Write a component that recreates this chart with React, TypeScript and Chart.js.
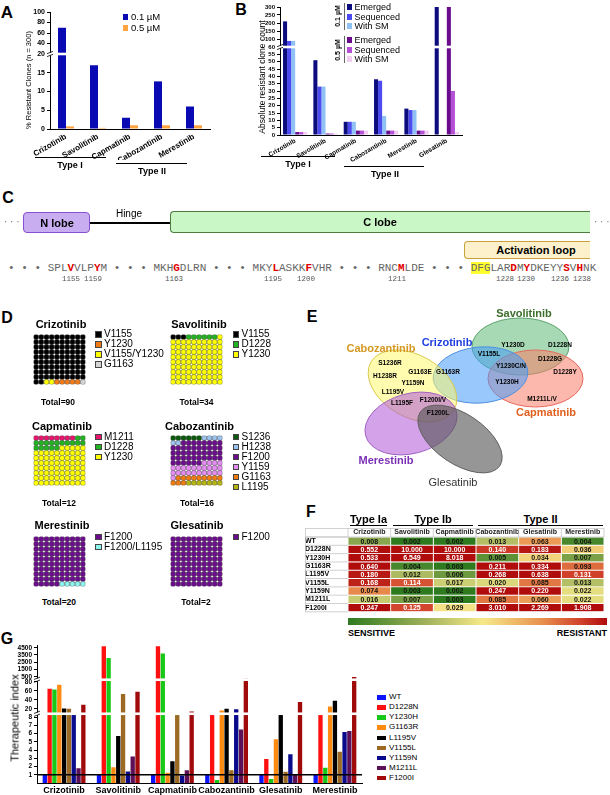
import React, { useEffect, useRef } from "react";
import { Chart, registerables } from "chart.js";

Chart.register(...registerables);

const SANS = '"Liberation Sans", Arial, Helvetica, sans-serif';
const MONO = '"Liberation Mono", "Courier New", monospace';
Chart.defaults.font.family = SANS;

/* ===================== DATA ===================== */
// Panel A
const drugsA = ["Crizotinib", "Savolitinib", "Capmatinib", "Cabozantinib", "Merestinib"];
const pctAt01 = [70, 17, 3, 12.7, 6];
const pctAt05 = [0.7, 0.3, 1, 1, 1];
const ticksALow = [0, 5, 10, 15];
const ticksAHigh = [20, 40, 60, 80, 100];
const legendA = ["0.1 µM", "0.5 µM"];

// Panel B
const drugsB = ["Crizotinib", "Savolitinib", "Capmatinib", "Cabozantinib", "Merestinib", "Glesatinib"];
const emerged01 = [210, 51, 9, 38, 18, 300];
const sequenced01 = [88, 33, 9, 37, 17, 0];
const withSM01 = [88, 33, 9, 13, 17, 0];
const emerged05 = [2, 1, 3, 3, 3, 300];
const sequenced05 = [2, 1, 3, 3, 3, 30];
const withSM05 = [2, 1, 3, 3, 3, 2];
const ticksBLow = [0, 5, 10, 15, 20, 25, 30, 35, 40, 45, 50, 55, 60];
const ticksBHigh = [100, 150, 200, 250, 300];
const legendB = ["Emerged", "Sequenced", "With SM"];
const concB = ["0.1 µM", "0.5 µM"];

// Panel C
const seqSegments = ["SPLVVLPYM", "MKHGDLRN", "MKYLASKKFVHR", "RNCMLDE", "DFGLARDMYDKEYYSVHNK"];
const seqRedPos = [[3, 7], [3], [3, 8], [3], [6, 8, 14, 16]];
const seqNumbers = ["1155", "1159", "1163", "1195", "1200", "1211", "1228", "1230", "1236", "1238"];

// Panel D  (cells of a 10x10 waffle)
const crizoMuts = ["V1155", "Y1230", "V1155/Y1230", "G1163"];
const crizoCells = [92, 5, 2, 1];
const savoMuts = ["V1155", "D1228", "Y1230"];
const savoCells = [3, 6, 91];
const capmaMuts = ["M1211", "D1228", "Y1230"];
const capmaCells = [8, 17, 75];
const caboMuts = ["S1236", "H1238", "F1200", "Y1159", "G1163", "L1195"];
const caboCells = [6, 6, 44, 25, 12, 7];
const mereMuts = ["F1200", "F1200/L1195"];
const mereCells = [95, 5];
const glesaMuts = ["F1200"];
const glesaCells = [100];
const waffleTotals = [90, 34, 12, 16, 20, 2];

// Panel E
const vennSets = ["Savolitinib", "Capmatinib", "Crizotinib", "Cabozantinib", "Merestinib", "Glesatinib"];
const vennMutations = ["Y1230D", "D1228N", "V1155L", "D1228G", "Y1230C/N", "D1228Y", "Y1230H", "M1211L/V",
  "S1236R", "G1163E", "G1163R", "H1238R", "Y1159N", "L1195V", "L1195F", "F1200I/V", "F1200L"];

// Panel F
const rowsF = ["WT", "D1228N", "Y1230H", "G1163R", "L1195V", "V1155L", "Y1159N", "M1211L", "F1200I"];
const drugsF = ["Crizotinib", "Savolitinib", "Capmatinib", "Cabozantinib", "Glesatinib", "Merestinib"];
const icCrizotinib = [0.008, 0.552, 0.533, 0.640, 0.180, 0.168, 0.074, 0.016, 0.247];
const icSavolitinib = [0.002, 10.000, 6.549, 0.004, 0.012, 0.114, 0.003, 0.007, 0.125];
const icCapmatinib = [0.002, 10.000, 8.018, 0.003, 0.006, 0.017, 0.002, 0.003, 0.029];
const icCabozantinib = [0.013, 0.140, 0.005, 0.211, 0.268, 0.020, 0.247, 0.085, 3.010];
const icGlesatinib = [0.063, 0.183, 0.034, 0.334, 0.638, 0.085, 0.220, 0.060, 2.269];
const icMerestinib = [0.004, 0.036, 0.007, 0.093, 0.131, 0.013, 0.022, 0.022, 1.908];
const typeGroupsF = ["Type Ia", "Type Ib", "Type II"];

// Panel G
const drugsG = ["Crizotinib", "Savolitinib", "Capmatinib", "Cabozantinib", "Glesatinib", "Merestinib"];
const seriesG = ["WT", "D1228N", "Y1230H", "G1163R", "L1195V", "V1155L", "Y1159N", "M1211L", "F1200I"];
const tiWT = [1, 1, 1, 1, 1, 1];
const tiD1228N = [65, 4700, 4700, 10.8, 2.9, 10.5];
const tiY1230H = [63, 3100, 3700, 0.35, 0.5, 1.85];
const tiG1163R = [74, 1.9, 1.25, 16, 5.3, 25];
const tiL1195V = [21, 5.7, 2.65, 20, 10.2, 38];
const tiV1155L = [20, 53, 8.5, 1.55, 1.35, 3.8];
const tiY1159N = [9.2, 1.4, 0.9, 19, 3.5, 6.2];
const tiM1211L = [1.8, 3.2, 1.55, 6.5, 1.0, 6.3];
const tiF1200I = [29, 58, 14, 240, 35, 480];
const ticksGLow = [1, 2, 3, 4, 5, 6, 7, 8];
const ticksGMid = [20, 40, 60, 80];
const ticksGHigh = [500, 1500, 2500, 3500, 4500];

/* ===================== STYLES ===================== */
const colA = ["#0a0ab4", "#ffa43f"];
const colB = ["#0c0c7e", "#4b4bf0", "#8fc1f5", "#6a0b8e", "#b44fd6", "#f2cdf2"];
const colG = ["#0a14ff", "#ff1010", "#18c818", "#ff8a10", "#000000", "#9c6a22", "#0a0a8c", "#5c1058", "#a00a0a"];
const colCrizo = ["#000000", "#f47a16", "#ffff00", "#d4d4d4"];
const colSavo = ["#000000", "#22b322", "#ffff00"];
const colCapma = ["#e8156f", "#22b322", "#ffff00"];
const colCabo = ["#0b5a0b", "#9cc3ee", "#6b0d8c", "#e38ef0", "#f07b10", "#b5b512"];
const colMere = ["#6b0d8c", "#8cf5f0"];
const colGlesa = ["#6b0d8c"];
const crizoFillOrder = [0, 2, 1, 3];

const vennGeom = [
  { cx: 520.5, cy: 346.5, rx: 48.5, ry: 28.5, rot: 0 },
  { cx: 535.5, cy: 378.5, rx: 47.5, ry: 28.5, rot: 0 },
  { cx: 480.5, cy: 375, rx: 47.5, ry: 28, rot: -5 },
  { cx: 412.5, cy: 386, rx: 48, ry: 31, rot: 30 },
  { cx: 411, cy: 423.5, rx: 47, ry: 30, rot: -15 },
  { cx: 460, cy: 439, rx: 48, ry: 25, rot: 34 },
];
const vennFill = ["rgba(95,185,120,0.55)", "rgba(250,125,105,0.55)", "rgba(70,155,250,0.55)",
  "rgba(255,250,110,0.55)", "rgba(175,85,215,0.55)", "rgba(85,85,85,0.62)"];
const vennStroke = ["#5aa36a", "#e8685a", "#4d8fe0", "#d8c850", "#a060c0", "#606060"];
const vennLabelPos = [[524, 313], [546, 412], [447, 342], [381, 348], [386, 460], [453, 482]];
const vennLabelColor = ["#3b6e2b", "#e2601e", "#1f3ee0", "#d4981f", "#7b2fb5", "#333333"];
const vennMutPos = [[513, 345], [560, 345], [489, 354], [550, 359], [511, 366], [565, 372], [507, 382], [542, 399],
  [390, 363], [420, 372], [448, 372], [385, 376], [413, 383], [393, 392], [402, 403], [433, 400], [438, 413]];

const heatStops: [number, number[]][] = [
  [0, [46, 122, 30]], [0.3, [160, 178, 90]], [0.52, [246, 233, 138]], [0.75, [232, 144, 78]], [0.9, [208, 64, 42]], [1, [176, 12, 12]],
];

/* ===================== HELPERS ===================== */
function heatT(v: number) {
  const t = (Math.log10(v) - Math.log10(0.003)) / (Math.log10(0.2) - Math.log10(0.003));
  return Math.max(0, Math.min(1, t));
}
function heatColor(v: number) {
  const t = heatT(v);
  for (let i = 1; i < heatStops.length; i++) {
    const [t1, c1] = heatStops[i];
    const [t0, c0] = heatStops[i - 1];
    if (t <= t1) {
      const f = (t - t0) / (t1 - t0);
      const c = c0.map((a, k) => Math.round(a + (c1[k] - a) * f));
      return `rgb(${c[0]},${c[1]},${c[2]})`;
    }
  }
  return "rgb(176,12,12)";
}

const basePlugins = { legend: { display: false }, tooltip: { enabled: false } };
function baseOpts() {
  return { responsive: false, maintainAspectRatio: false, animation: false, devicePixelRatio: 1, events: [] as any[] };
}

function segAxis(stack: string, weight: number, min: number, max: number, ticks: number[], width: number, size: number) {
  return {
    type: "linear", position: "left", stack, stackWeight: weight, min, max, stacked: false, offset: false,
    afterBuildTicks: (ax: any) => { ax.ticks = ticks.map((v) => ({ value: v })); },
    afterFit: (ax: any) => { ax.width = width; },
    ticks: { font: { family: SANS, size, weight: "bold" }, color: "#000", padding: 2, autoSkip: false, callback: (v: any) => String(v) },
    grid: { drawOnChartArea: false, drawTicks: true, tickLength: 3, color: "#000", lineWidth: 1 },
    border: { display: true, color: "#000", width: 1 },
  };
}
function catAxis(size: number, rot: number, height: number, pad: number) {
  return {
    type: "category", offset: true,
    grid: { display: false, drawTicks: false },
    border: { display: true, color: "#000", width: 1 },
    ticks: { font: { family: SANS, size, weight: "bold" }, color: "#000", minRotation: rot, maxRotation: rot, autoSkip: false, padding: pad },
    afterFit: (ax: any) => { ax.height = height; },
  };
}
function segmentDatasets(series: { label: string; data: number[]; color: string }[], segIds: string[], catPct: number, barPct: number) {
  const out: any[] = [];
  segIds.forEach((id) => series.forEach((s, i) => out.push({
    label: s.label, data: s.data, backgroundColor: s.color, yAxisID: id, stack: "s" + i,
    categoryPercentage: catPct, barPercentage: barPct, borderWidth: 0,
  })));
  return out;
}

const segClip = {
  id: "segClip",
  beforeDatasetDraw(chart: any, args: any) {
    const ys = args.meta.yScale;
    const { ctx, chartArea } = chart;
    ctx.save();
    ctx.beginPath();
    ctx.rect(chartArea.left, ys.top, chartArea.right - chartArea.left, ys.bottom - ys.top);
    ctx.clip();
  },
  afterDatasetDraw(chart: any) { chart.ctx.restore(); },
};
const breakMarks = {
  id: "breakMarks",
  afterDatasetsDraw(chart: any, _a: any, opts: any) {
    const ids: string[] = (opts && opts.ids) || [];
    const { ctx, chartArea } = chart;
    ids.forEach((id) => {
      const y = chart.scales[id].top;
      const L = chartArea.left;
      ctx.save();
      ctx.fillStyle = "#fff";
      ctx.fillRect(L - 4, y - 1.3, chartArea.right - L + 4, 2.6);
      ctx.strokeStyle = "#000";
      ctx.lineWidth = 0.8;
      ctx.beginPath();
      ctx.moveTo(L - 3, y - 0.3); ctx.lineTo(L + 3, y - 2.6);
      ctx.moveTo(L - 3, y + 2.6); ctx.lineTo(L + 3, y + 0.3);
      ctx.stroke();
      ctx.restore();
    });
  },
};
const refLine = {
  id: "refLine",
  afterDatasetsDraw(chart: any, _a: any, opts: any) {
    if (!opts || !opts.axis) return;
    const { ctx, chartArea } = chart;
    const y = chart.scales[opts.axis].getPixelForValue(opts.value);
    ctx.save();
    ctx.strokeStyle = "#000";
    ctx.lineWidth = 1.4;
    ctx.beginPath();
    ctx.moveTo(chartArea.left, y); ctx.lineTo(chartArea.right, y);
    ctx.stroke();
    ctx.restore();
  },
};

/* ===================== CONFIGS ===================== */
function configA() {
  const series = [pctAt01, pctAt05].map((d, i) => ({ label: legendA[i], data: d, color: colA[i] }));
  return {
    type: "bar",
    data: { labels: drugsA, datasets: segmentDatasets(series, ["aLow", "aHigh"], 0.5, 1) },
    options: {
      ...baseOpts(),
      layout: { padding: { top: 12, right: 5, left: 0, bottom: 0 } },
      scales: {
        x: catAxis(8, 30, 31, 3),
        aLow: segAxis("a", 75, 0, 20, ticksALow, 50, 7),
        aHigh: segAxis("a", 42, 20, 100, ticksAHigh, 50, 7),
      },
      plugins: { ...basePlugins, breakMarks: { ids: ["aLow"] } },
    },
    plugins: [segClip, breakMarks],
  };
}

function configB() {
  const data = [emerged01, sequenced01, withSM01, emerged05, sequenced05, withSM05];
  const series = data.map((d, i) => ({ label: legendB[i % 3], data: d, color: colB[i] }));
  return {
    type: "bar",
    data: { labels: drugsB, datasets: segmentDatasets(series, ["bLow", "bHigh"], 0.8, 1) },
    options: {
      ...baseOpts(),
      layout: { padding: { top: 7, right: 3, left: 0, bottom: 0 } },
      scales: {
        x: catAxis(6.5, 30, 35, 2),
        bLow: segAxis("b", 88, 0, 60, ticksBLow, 50, 6),
        bHigh: segAxis("b", 40, 50, 300, ticksBHigh, 50, 6),
      },
      plugins: { ...basePlugins, breakMarks: { ids: ["bLow"] } },
    },
    plugins: [segClip, breakMarks],
  };
}

function configG() {
  const data = [tiWT, tiD1228N, tiY1230H, tiG1163R, tiL1195V, tiV1155L, tiY1159N, tiM1211L, tiF1200I];
  const series = data.map((d, i) => ({ label: seriesG[i], data: d, color: colG[i] }));
  return {
    type: "bar",
    data: { labels: drugsG, datasets: segmentDatasets(series, ["gLow", "gMid", "gHigh"], 0.8, 0.9) },
    options: {
      ...baseOpts(),
      layout: { padding: { top: 5.8, right: 8, left: 0, bottom: 0 } },
      scales: {
        x: catAxis(9, 0, 12, 2),
        gLow: segAxis("g", 69.6, 0, 8.4, ticksGLow, 37, 6.5),
        gMid: segAxis("g", 34.2, 9, 85, ticksGMid, 37, 6.5),
        gHigh: segAxis("g", 34, 100, 4750, ticksGHigh, 37, 6.5),
      },
      plugins: { ...basePlugins, breakMarks: { ids: ["gLow", "gMid"] }, refLine: { axis: "gLow", value: 1 } },
    },
    plugins: [segClip, breakMarks, refLine],
  };
}

const icColumns = [icCrizotinib, icSavolitinib, icCapmatinib, icCabozantinib, icGlesatinib, icMerestinib];
const cellText = {
  id: "cellText",
  afterDatasetsDraw(chart: any) {
    const ctx = chart.ctx;
    ctx.save();
    ctx.font = `bold 7px ${SANS}`;
    ctx.textAlign = "center";
    ctx.textBaseline = "middle";
    chart.data.datasets.forEach((_ds: any, j: number) => {
      chart.getDatasetMeta(j).data.forEach((el: any, i: number) => {
        const v = icColumns[j][i];
        const p = el.getCenterPoint();
        ctx.fillStyle = heatT(v) > 0.85 ? "#ffffff" : "#111111";
        ctx.fillText(v.toFixed(3), p.x, p.y + 0.5);
      });
    });
    ctx.restore();
  },
};
const tableGrid = {
  id: "tableGrid",
  afterDraw(chart: any) {
    const { ctx, chartArea, scales } = chart;
    const xs = scales.x, ys = scales.y;
    ctx.save();
    ctx.strokeStyle = "#bdbdbd";
    ctx.lineWidth = 0.7;
    ctx.beginPath();
    const top = xs.top + 0.5;
    ctx.moveTo(ys.left, top); ctx.lineTo(chartArea.right, top);
    ctx.moveTo(ys.left, chartArea.top); ctx.lineTo(chartArea.right, chartArea.top);
    for (let j = 0; j <= drugsF.length; j++) {
      const px = xs.getPixelForValue(j);
      ctx.moveTo(px, top); ctx.lineTo(px, chartArea.top);
    }
    const h = chartArea.height / rowsF.length;
    for (let i = 0; i <= rowsF.length; i++) {
      const py = chartArea.top + i * h;
      ctx.moveTo(ys.left, py); ctx.lineTo(chartArea.left, py);
    }
    ctx.moveTo(ys.left + 0.5, top); ctx.lineTo(ys.left + 0.5, chartArea.bottom);
    ctx.stroke();
    ctx.restore();
  },
};
function configF() {
  const datasets = drugsF.map((d, j) => ({
    label: d,
    data: rowsF.map(() => [j, j + 1]),
    backgroundColor: rowsF.map((_r, i) => heatColor(icColumns[j][i])),
    borderColor: "rgba(255,255,255,0.85)", borderWidth: 0.8, borderSkipped: false,
    barPercentage: 1, categoryPercentage: 1, grouped: false,
  }));
  return {
    type: "bar",
    data: { labels: rowsF, datasets },
    options: {
      ...baseOpts(),
      indexAxis: "y",
      layout: { padding: { top: 0, right: 3, left: 0, bottom: 6 } },
      scales: {
        x: {
          type: "linear", position: "top", min: 0, max: drugsF.length,
          afterBuildTicks: (ax: any) => { ax.ticks = drugsF.map((_d, j) => ({ value: j + 0.5 })); },
          afterFit: (ax: any) => { ax.height = 9; },
          grid: { display: false, drawTicks: false, tickLength: 0 }, border: { display: false },
          ticks: { font: { family: SANS, size: 7, weight: "bold" }, color: "#222", padding: 1, maxRotation: 0, autoSkip: false, callback: (v: any) => drugsF[Math.floor(v)] },
        },
        y: {
          type: "category", offset: true,
          afterFit: (ax: any) => { ax.width = 43; },
          grid: { display: false, drawTicks: false, tickLength: 0 }, border: { display: false },
          ticks: { font: { family: SANS, size: 7, weight: "bold" }, color: "#000", crossAlign: "far", padding: 2, autoSkip: false },
        },
      },
      plugins: basePlugins,
    },
    plugins: [cellText, tableGrid],
  };
}

const vennDraw = {
  id: "vennDraw",
  beforeDatasetsDraw(chart: any) {
    const { ctx } = chart;
    const xs = chart.scales.x, ys = chart.scales.y;
    vennSets.forEach((_n, k) => {
      const g = vennGeom[k];
      const cx = xs.getPixelForValue(g.cx), cy = ys.getPixelForValue(g.cy);
      const rx = Math.abs(xs.getPixelForValue(g.cx + g.rx) - cx);
      const ry = Math.abs(ys.getPixelForValue(g.cy + g.ry) - cy);
      ctx.save();
      ctx.beginPath();
      ctx.ellipse(cx, cy, rx, ry, (g.rot * Math.PI) / 180, 0, Math.PI * 2);
      ctx.fillStyle = vennFill[k];
      ctx.fill();
      ctx.lineWidth = 1;
      ctx.strokeStyle = vennStroke[k];
      ctx.stroke();
      ctx.restore();
    });
  },
};
function configE() {
  return {
    type: "scatter",
    data: { datasets: vennSets.map((n, k) => ({ label: n, data: [{ x: vennGeom[k].cx, y: vennGeom[k].cy }], pointRadius: 0 })) },
    options: {
      ...baseOpts(),
      layout: { padding: 0 },
      scales: {
        x: { type: "linear", min: 300, max: 610, display: false },
        y: { type: "linear", min: 290, max: 500, reverse: true, display: false },
      },
      plugins: basePlugins,
    },
    plugins: [vennDraw],
  };
}

const wafflePoints = Array.from({ length: 100 }, (_v, k) => ({ x: k % 10, y: Math.floor(k / 10) }));
function waffleColors(cells: number[], colors: string[], order?: number[]) {
  const out: string[] = [];
  (order || cells.map((_c, i) => i)).forEach((k) => { for (let i = 0; i < cells[k]; i++) out.push(colors[k]); });
  return out;
}
function configWaffle(colors: string[]) {
  return {
    type: "scatter",
    data: { datasets: [{ data: wafflePoints, pointBackgroundColor: colors, pointBorderColor: "#555", pointBorderWidth: 0.5, pointRadius: 2.65 }] },
    options: {
      ...baseOpts(),
      layout: { padding: 0 },
      scales: {
        x: { type: "linear", min: -0.5, max: 9.5, display: false },
        y: { type: "linear", min: -0.5, max: 9.5, reverse: true, display: false },
      },
      plugins: basePlugins,
    },
  };
}

/* ===================== COMPONENTS ===================== */
function ChartCanvas({ x, y, w, h, make }: any) {
  const ref = useRef<HTMLCanvasElement | null>(null);
  useEffect(() => {
    if (!ref.current) return;
    const c = new Chart(ref.current, make());
    return () => c.destroy();
  }, []);
  return <canvas ref={ref} width={w} height={h} style={{ position: "absolute", left: x, top: y, width: w, height: h }} />;
}

function T({ x, y, s, b, c, a, rot, f, children }: any) {
  const tx = a === "l" ? "0%" : a === "r" ? "-100%" : "-50%";
  return (
    <div style={{
      position: "absolute", left: x, top: y,
      transform: `translate(${tx}, -50%)` + (rot ? ` rotate(${rot}deg)` : ""),
      fontSize: s, fontWeight: b ? "bold" : "normal", color: c || "#000", fontFamily: f || SANS,
      whiteSpace: "nowrap", lineHeight: 1,
    }}>{children}</div>
  );
}
function R({ x, y, w, h, c, bd, style }: any) {
  return <div style={{ position: "absolute", left: x, top: y, width: w, height: h, background: c, border: bd, boxSizing: "border-box", ...(style || {}) }} />;
}

function Sequence() {
  const chars: { ch: string; red: boolean; hl: boolean }[] = [];
  const push = (s: string) => { for (const ch of s) chars.push({ ch, red: false, hl: false }); };
  push("• • • ");
  seqSegments.forEach((seg, si) => {
    if (si > 0) push(" • • • ");
    for (let i = 0; i < seg.length; i++) {
      chars.push({ ch: seg[i], red: seqRedPos[si].includes(i), hl: si === seqSegments.length - 1 && i < 3 });
    }
  });
  return (
    <div style={{ position: "absolute", left: 8, top: 261, fontFamily: MONO, fontSize: 11, lineHeight: "14px", whiteSpace: "pre", color: "#666" }}>
      {chars.map((c, i) => (
        <span key={i} style={{ color: c.red ? "#e00000" : undefined, fontWeight: c.red ? "bold" : "normal", background: c.hl ? "#ffff30" : undefined }}>{c.ch}</span>
      ))}
    </div>
  );
}
const seqNumberX = [71, 93, 174, 273, 306, 397, 505, 526, 560, 582];

function WaffleLegend({ x, y0, names, colors }: any) {
  return (
    <>
      {names.map((n: string, i: number) => (
        <React.Fragment key={n}>
          <R x={x} y={y0 + i * 10 - 3} w={6.5} h={6.5} c={colors[i]} bd="0.5px solid #444" />
          <T x={x + 9} y={y0 + i * 10} s={10} a="l">{n}</T>
        </React.Fragment>
      ))}
    </>
  );
}

export default function App() {
  const waffles = [
    { name: "Crizotinib", muts: crizoMuts, cells: crizoCells, cols: colCrizo, order: crizoFillOrder, gx: 29.2, gy: 330.3, tx: 61, ty: 324.3, lx: 95, ly: 334.3, totY: 401.7, totX: 58 },
    { name: "Savolitinib", muts: savoMuts, cells: savoCells, cols: colSavo, gx: 165.6, gy: 330.3, tx: 199, ty: 324.3, lx: 232.5, ly: 334.3, totY: 401.7, totX: 196.5 },
    { name: "Capmatinib", muts: capmaMuts, cells: capmaCells, cols: colCapma, gx: 29.2, gy: 431.3, tx: 62, ty: 425.7, lx: 95, ly: 436.7, totY: 503.3, totX: 59 },
    { name: "Cabozantinib", muts: caboMuts, cells: caboCells, cols: colCabo, gx: 165.6, gy: 431.3, tx: 199.5, ty: 425.7, lx: 232.5, ly: 436.7, totY: 503.3, totX: 197 },
    { name: "Merestinib", muts: mereMuts, cells: mereCells, cols: colMere, gx: 29.2, gy: 532, tx: 62, ty: 525, lx: 95, ly: 536.7, totY: 602, totX: 59 },
    { name: "Glesatinib", muts: glesaMuts, cells: glesaCells, cols: colGlesa, gx: 165.6, gy: 532, tx: 197, ty: 525, lx: 232.5, ly: 536.7, totY: 602, totX: 196 },
  ];
  const gradient = `linear-gradient(to right, ${heatStops.map(([t, c]) => `rgb(${c[0]},${c[1]},${c[2]}) ${t * 100}%`).join(", ")})`;
  return (
    <div style={{ position: "absolute", left: 0, top: 0, width: 610, height: 795, background: "#fff", overflow: "hidden", fontFamily: SANS, color: "#000" }}>
      {/* ---------- Panel letters ---------- */}
      <T x={7} y={12} s={17} b>A</T>
      <T x={241} y={10} s={16} b>B</T>
      <T x={8} y={198} s={16} b>C</T>
      <T x={7} y={318} s={16} b>D</T>
      <T x={312} y={317} s={16} b>E</T>
      <T x={311} y={512} s={16} b>F</T>
      <T x={7} y={639} s={16} b>G</T>

      {/* ---------- A ---------- */}
      <ChartCanvas x={0} y={0} w={215} h={160} make={configA} />
      <T x={29} y={80} s={7.5} rot={-90}>% Resistant Clones (n = 300)</T>
      {legendA.map((l, i) => (
        <React.Fragment key={l}>
          <R x={123} y={14 + i * 10.7} w={5} h={6} c={colA[i]} />
          <T x={131} y={17.3 + i * 10.7} s={9.5} a="l">{l}</T>
        </React.Fragment>
      ))}
      <R x={35} y={156.5} w={71} h={1.2} c="#000" />
      <T x={70} y={165} s={9} b>Type I</T>
      <R x={116} y={162.5} w={71} h={1.2} c="#000" />
      <T x={152} y={171} s={9} b>Type II</T>

      {/* ---------- B ---------- */}
      <ChartCanvas x={230} y={0} w={235} h={170} make={configB} />
      <T x={262} y={77} s={8.5} rot={-90}>Absolute resistant clone count</T>
      {concB.map((cName, g) => (
        <React.Fragment key={cName}>
          <R x={343.5} y={g === 0 ? 3 : 36} w={1.6} h={27} c="#666" />
          <T x={337} y={g === 0 ? 16 : 49.5} s={7} b rot={-90}>{cName}</T>
          {legendB.map((l, i) => (
            <React.Fragment key={l}>
              <R x={347} y={(g === 0 ? 7.3 : 40.3) + i * 9.5 - 3} w={5} h={6} c={colB[g * 3 + i]} />
              <T x={354.5} y={(g === 0 ? 7.3 : 40.3) + i * 9.5} s={9} a="l">{l}</T>
            </React.Fragment>
          ))}
        </React.Fragment>
      ))}
      <R x={261} y={156} w={74} h={1.2} c="#000" />
      <T x={298} y={164} s={9} b>Type I</T>
      <R x={344} y={165.5} w={80} h={1.2} c="#000" />
      <T x={385} y={173.5} s={9} b>Type II</T>

      {/* ---------- C ---------- */}
      <T x={4} y={222} s={10} c="#777" a="l">· · ·</T>
      <R x={23} y={211.5} w={67} h={21.5} c="#c8aef0" bd="1.5px solid #8a4fd0" style={{ borderRadius: 4 }} />
      <T x={57} y={222.5} s={11} b>N lobe</T>
      <R x={90} y={221.5} w={80} h={2} c="#000" />
      <T x={129} y={214} s={10}>Hinge</T>
      <R x={170} y={211} w={420} h={22} c="#c9f7c6" bd="1.5px solid #4f7d3d" style={{ borderRight: "none", borderRadius: "4px 0 0 4px" }} />
      <T x={380} y={222} s={11} b>C lobe</T>
      <T x={594} y={222} s={10} c="#777" a="l">· · ·</T>
      <R x={464} y={240.5} w={126} h={18.5} c="#fdf1cc" bd="1.5px solid #c9a23c" style={{ borderRight: "none", borderRadius: "4px 0 0 4px" }} />
      <T x={536} y={250} s={11} b>Activation loop</T>
      <Sequence />
      {seqNumbers.map((n, i) => (
        <T key={n} x={seqNumberX[i]} y={280} s={7.5} f={MONO} c="#555">{n}</T>
      ))}

      {/* ---------- D ---------- */}
      {waffles.map((w, i) => (
        <React.Fragment key={w.name}>
          <T x={w.tx} y={w.ty} s={11} b>{w.name}</T>
          <ChartCanvas x={w.gx} y={w.gy} w={61} h={59} make={() => configWaffle(waffleColors(w.cells, w.cols, w.order))} />
          <WaffleLegend x={w.lx} y0={w.ly} names={w.muts} colors={w.cols} />
          <T x={w.totX} y={w.totY} s={8.5} b>{"Total=" + waffleTotals[i]}</T>
        </React.Fragment>
      ))}

      {/* ---------- E ---------- */}
      <ChartCanvas x={300} y={290} w={310} h={210} make={configE} />
      {vennSets.map((n, k) => (
        <T key={n} x={vennLabelPos[k][0]} y={vennLabelPos[k][1]} s={11} b={k !== 5} c={vennLabelColor[k]}>{n}</T>
      ))}
      {vennMutations.map((m, k) => (
        <T key={m} x={vennMutPos[k][0]} y={vennMutPos[k][1]} s={6.5} b>{m}</T>
      ))}

      {/* ---------- F ---------- */}
      {typeGroupsF.map((g, i) => {
        const spans = [[350, 387], [393, 473], [478, 603]][i];
        return (
          <React.Fragment key={g}>
            <T x={(spans[0] + spans[1]) / 2} y={519} s={11} b>{g}</T>
            <R x={spans[0]} y={524.5} w={spans[1] - spans[0]} h={1.4} c="#000" />
          </React.Fragment>
        );
      })}
      <ChartCanvas x={305} y={528} w={302} h={90} make={configF} />
      <R x={348} y={618} w={259} h={7} style={{ background: gradient }} />
      <T x={348} y={633} s={9} b a="l">SENSITIVE</T>
      <T x={607} y={633} s={9} b a="r">RESISTANT</T>

      {/* ---------- G ---------- */}
      <ChartCanvas x={0} y={640} w={370} h={155} make={configG} />
      <T x={15} y={718} s={11} rot={-90}>Therapeutic index</T>
      {seriesG.map((s, i) => (
        <React.Fragment key={s}>
          <R x={377} y={697.3 + i * 10.05 - 2} w={9} h={4.5} c={colG[i]} />
          <T x={389} y={697.3 + i * 10.05} s={8} a="l">{s}</T>
        </React.Fragment>
      ))}
    </div>
  );
}
